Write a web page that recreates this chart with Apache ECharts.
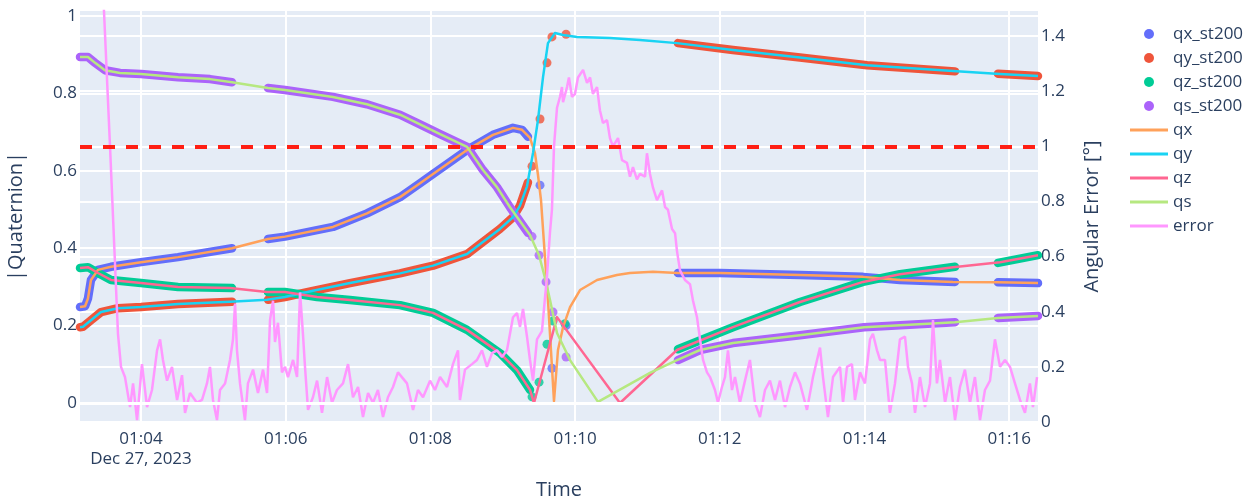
<!DOCTYPE html>
<html><head><meta charset="utf-8">
<script src="https://cdn.jsdelivr.net/npm/echarts@6/dist/echarts.min.js"></script>
<style>html,body{margin:0;padding:0;background:#fff}#c{width:1255px;height:500px}</style>
</head><body><div id="c"></div>
<script>
// Time values are seconds after 01:00:00 on Dec 27, 2023
const dateLabel = 'Dec 27, 2023';
const xTickLabels = ['01:04','01:06','01:08','01:10','01:12','01:14','01:16'];
const xRange = [189.4, 983.9];
const leftTicks = [0, 0.2, 0.4, 0.6, 0.8, 1];
const leftTickLabels = ['0','0.2','0.4','0.6','0.8','1'];
const leftRange = [-0.049, 1.013];
const rightTicks = [0, 0.2, 0.4, 0.6, 0.8, 1, 1.2, 1.4];
const rightTickLabels = ['0','0.2','0.4','0.6','0.8','1','1.2','1.4'];
const rightRange = [0, 1.491];
const errorThreshold = 1;
const zeroLevel = 0;

const qxLine = [[189.4,0.248],[193.6,0.250],[196.0,0.27],[198.5,0.318],[204.3,0.344],[215.1,0.352],[240,0.364],[270.7,0.377],[315.5,0.400],[345.3,0.424],[359.4,0.430],[399.2,0.455],[427.4,0.49],[454.8,0.532],[471.4,0.568],[482.2,0.592],[510.4,0.654],[531.9,0.693],[548.5,0.711],[556.0,0.706],[562.6,0.685],[566.7,0.646],[569.2,0.590],[571.7,0.525],[577.5,0.266],[582.5,0.005],[585.8,0.137],[590.0,0.196],[595.8,0.248],[604.1,0.292],[618.2,0.318],[634.7,0.331],[645.5,0.336],[664.6,0.339],[685,0.336],[720,0.336],[786.5,0.331],[838.8,0.326],[869.4,0.318],[913.4,0.313],[949.9,0.312],[983.9,0.31]];
const qyLine = [[189.4,0.196],[191.9,0.197],[198.5,0.214],[206.8,0.235],[220.9,0.245],[240,0.248],[270.7,0.256],[313.8,0.262],[344.5,0.267],[359.4,0.274],[382.6,0.29],[413.3,0.31],[454.8,0.335],[482.2,0.355],[510.4,0.385],[537.7,0.45],[548.5,0.48],[554.3,0.51],[560.1,0.56],[565.1,0.646],[569.2,0.731],[573.4,0.842],[577.5,0.93],[583.3,0.956],[590.0,0.951],[601.6,0.946],[628.9,0.943],[653.8,0.938],[684.5,0.930],[730.9,0.912],[786.5,0.893],[842.1,0.873],[913.4,0.858],[952.4,0.850],[983.9,0.845]];
const qzLine = [[189.4,0.349],[196.0,0.351],[204.3,0.336],[215.1,0.318],[240,0.31],[270.7,0.30],[313.8,0.297],[344.5,0.287],[359.4,0.287],[386.0,0.274],[413.3,0.266],[454.8,0.253],[482.2,0.233],[510.4,0.189],[537.7,0.129],[551.8,0.085],[562.6,0.034],[565.9,0.0],[585.0,0.222],[637.2,0.0],[684.5,0.137],[730.9,0.196],[786.5,0.261],[838.8,0.313],[869.4,0.333],[913.4,0.351],[952.4,0.364],[983.9,0.382]];
const qsLine = [[189.4,0.894],[196.0,0.894],[201.9,0.879],[210.1,0.860],[222.6,0.853],[240,0.850],[270.7,0.842],[297.2,0.837],[315.5,0.829],[345.3,0.814],[359.4,0.809],[399.2,0.791],[427.4,0.772],[454.8,0.745],[471.4,0.72],[488.0,0.695],[510.4,0.662],[523.6,0.602],[535.2,0.558],[546.0,0.506],[562.6,0.434],[570.1,0.382],[575.9,0.313],[579.2,0.266],[585.0,0.181],[595.8,0.111],[619.0,0.003],[662.1,0.078],[684.5,0.111],[703.6,0.137],[730.9,0.155],[786.5,0.175],[839.6,0.196],[915.1,0.209],[950.7,0.22],[983.9,0.225]];
const errorLine = [[189.4,3.4],[209.3,1.49],[214.3,1.0],[220.9,0.32],[223.4,0.20],[226.7,0.163],[230.9,0.054],[233.4,0.14],[236.7,0.007],[240.8,0.21],[245.0,0.054],[249.1,0.116],[253.3,0.26],[255.8,0.30],[258.2,0.225],[261.6,0.15],[265.7,0.20],[269.9,0.08],[274.0,0.17],[276.5,0.033],[280.6,0.105],[286.4,0.07],[290.6,0.08],[294.7,0.14],[297.2,0.20],[299.7,0.08],[303.0,0.007],[305.5,0.116],[309.7,0.14],[313.8,0.225],[316.3,0.30],[318.0,0.43],[319.6,0.26],[322.1,0.14],[326.2,0.007],[328.7,0.14],[332.9,0.19],[337.0,0.105],[341.2,0.19],[344.5,0.105],[347.0,0.37],[349.5,0.44],[351.1,0.29],[353.6,0.36],[356.9,0.18],[359.4,0.20],[361.9,0.163],[366.1,0.225],[369.4,0.163],[371.9,0.47],[374.3,0.32],[376.0,0.20],[378.5,0.044],[382.6,0.09],[386.0,0.15],[390.1,0.033],[394.3,0.163],[398.4,0.07],[402.5,0.116],[407.5,0.14],[411.7,0.21],[415.8,0.09],[420.0,0.127],[424.1,0.018],[428.3,0.105],[432.4,0.07],[436.5,0.116],[440.7,0.018],[444.8,0.09],[449.0,0.127],[453.1,0.18],[460.6,0.14],[465.6,0.044],[469.7,0.116],[473.9,0.09],[479.7,0.15],[483.8,0.116],[488.0,0.163],[493.8,0.127],[498.7,0.21],[502.9,0.26],[504.5,0.08],[508.7,0.19],[514.5,0.21],[518.6,0.225],[522.8,0.26],[526.9,0.20],[531.1,0.25],[535.2,0.26],[539.4,0.236],[543.5,0.26],[546.0,0.32],[548.5,0.38],[551.8,0.395],[554.3,0.345],[556.8,0.41],[560.1,0.31],[562.6,0.225],[565.1,0.15],[568.4,0.30],[572.5,0.33],[574.2,0.41],[576.7,0.53],[579.2,0.69],[580.8,0.77],[582.5,1.0],[585.0,1.14],[587.5,1.18],[589.1,1.215],[590.0,1.16],[593.3,1.215],[594.9,1.25],[597.4,1.18],[599.9,1.19],[602.4,1.25],[606.6,1.277],[609.9,1.23],[612.4,1.25],[614.8,1.19],[618.2,1.215],[620.6,1.13],[623.1,1.085],[626.5,1.095],[628.9,1.03],[631.4,1.0],[635.6,1.03],[638.9,0.95],[643.0,0.94],[645.5,0.89],[648.0,0.925],[651.3,0.88],[653.8,0.90],[658.0,0.89],[659.6,0.975],[662.1,0.90],[664.6,0.85],[667.9,0.805],[672.1,0.84],[674.6,0.78],[677.0,0.77],[680.4,0.70],[682.9,0.685],[684.5,0.62],[687.0,0.55],[691.1,0.515],[695.3,0.50],[697.8,0.44],[701.1,0.38],[703.6,0.30],[706.1,0.225],[709.4,0.18],[711.9,0.163],[716.0,0.116],[718.5,0.07],[721.8,0.127],[724.3,0.163],[726.8,0.26],[730.1,0.116],[732.6,0.163],[736.7,0.07],[740.9,0.15],[745.0,0.225],[749.2,0.07],[753.3,0.018],[757.5,0.116],[761.6,0.15],[765.8,0.08],[769.9,0.15],[774.1,0.054],[778.2,0.127],[782.4,0.18],[786.5,0.14],[792.3,0.044],[797.3,0.163],[803.1,0.27],[805.6,0.163],[809.7,0.018],[813.9,0.163],[819.7,0.20],[822.2,0.07],[825.5,0.20],[829.6,0.21],[832.1,0.08],[836.3,0.18],[840.4,0.14],[844.6,0.30],[847.0,0.32],[850.4,0.26],[852.9,0.225],[857.0,0.225],[861.1,0.033],[865.3,0.14],[869.4,0.30],[873.6,0.31],[876.1,0.20],[879.4,0.14],[881.9,0.033],[886.0,0.163],[890.2,0.054],[894.3,0.14],[896.8,0.37],[900.1,0.14],[902.6,0.225],[906.8,0.07],[910.9,0.163],[915.1,0.007],[919.2,0.127],[923.3,0.19],[927.5,0.07],[931.6,0.163],[935.8,0.007],[939.9,0.116],[944.1,0.15],[948.2,0.30],[952.4,0.20],[956.5,0.225],[960.7,0.20],[964.8,0.14],[969.0,0.08],[973.1,0.033],[977.2,0.14],[979.7,0.054],[983.1,0.163]];

// st200 samples: dense runs (segments) and a few isolated samples
const qxSt200Runs = [
  [[189.4,0.248],[193.6,0.250],[196.0,0.27],[198.5,0.318],[204.3,0.344],[215.1,0.352],[240,0.364],[270.7,0.377],[315.5,0.400]],
  [[345.3,0.424],[359.4,0.430],[399.2,0.455],[427.4,0.49],[454.8,0.532],[471.4,0.568],[482.2,0.592],[510.4,0.654],[531.9,0.693],[548.5,0.711],[556.0,0.706],[560.9,0.688]],
  [[685.3,0.336],[720,0.336],[786.5,0.331],[838.8,0.326],[869.4,0.318],[915.1,0.313]],
  [[950.7,0.312],[983.9,0.31]]];
const qxSt200Single = [[570.9,0.563],[580.8,0.09],[592.5,0.20]];
const qySt200Runs = [
  [[189.4,0.196],[191.9,0.197],[198.5,0.214],[206.8,0.235],[220.9,0.245],[240,0.248],[270.7,0.256],[315.5,0.262]],
  [[345.3,0.267],[359.4,0.274],[382.6,0.29],[413.3,0.31],[454.8,0.335],[482.2,0.355],[510.4,0.385],[537.7,0.45],[548.5,0.48],[554.3,0.51],[560.9,0.57]],
  [[685.3,0.93],[730.9,0.912],[786.5,0.893],[842.1,0.873],[915.1,0.857]],
  [[950.7,0.851],[983.9,0.845]]];
const qySt200Single = [[564.3,0.612],[570.9,0.734],[576.7,0.879],[580.8,0.946],[592.5,0.953]];
const qzSt200Runs = [
  [[189.4,0.349],[196.0,0.351],[204.3,0.336],[215.1,0.318],[240,0.31],[270.7,0.30],[315.5,0.297]],
  [[345.3,0.287],[359.4,0.287],[386.0,0.274],[413.3,0.266],[454.8,0.253],[482.2,0.233],[510.4,0.189],[537.7,0.129],[551.8,0.085],[562.6,0.034]],
  [[685.3,0.139],[730.9,0.196],[786.5,0.261],[838.8,0.313],[869.4,0.333],[915.1,0.352]],
  [[950.7,0.362],[983.9,0.382]]];
const qzSt200Single = [[564.3,0.016],[570.1,0.054],[576.7,0.152],[581.7,0.212],[591.6,0.205]];
const qsSt200Runs = [
  [[189.4,0.894],[196.0,0.894],[201.9,0.879],[210.1,0.860],[222.6,0.853],[240,0.850],[270.7,0.842],[297.2,0.837],[315.5,0.829]],
  [[345.3,0.814],[359.4,0.809],[399.2,0.791],[427.4,0.772],[454.8,0.745],[471.4,0.72],[488.0,0.695],[510.4,0.662],[523.6,0.602],[535.2,0.558],[546.0,0.506],[560.9,0.44]],
  [[685.3,0.111],[703.6,0.137],[730.9,0.155],[786.5,0.175],[839.6,0.196],[915.1,0.209]],
  [[950.7,0.22],[983.9,0.225]]];
const qsSt200Single = [[564.3,0.43],[570.1,0.382],[575.9,0.313],[581.7,0.235],[592.5,0.119]];

const colors = {qx_st200:'#636EFA', qy_st200:'#EF553B', qz_st200:'#00CC96', qs_st200:'#AB63FA',
  qx:'#FFA15A', qy:'#19D3F3', qz:'#FF6692', qs:'#B6E880', error:'#FF97FF'};

function toSec(lbl){ const p = lbl.split(':'); return (+p[0]-1)*3600 + (+p[1])*60; }
const xTickVals = xTickLabels.map(toSec);
function joinRuns(runs){ const out=[]; runs.forEach((r,i)=>{ if(i) out.push(['-','-']); r.forEach(p=>out.push(p)); }); return out; }

const font = 'Open Sans, Verdana, Arial, sans-serif';
const txt = '#2a3f5f';

const series = [];
// white zero line of the left axis (drawn under the data)
series.push({name:'zeroline',type:'line',data:[],z:1,silent:true,
  markLine:{silent:true,symbol:['none','none'],label:{show:false},animation:false,
    lineStyle:{color:'#fff',width:3,type:'solid'},data:[{yAxis:zeroLevel}]}});
[['qx_st200',qxSt200Runs,qxSt200Single],['qy_st200',qySt200Runs,qySt200Single],['qz_st200',qzSt200Runs,qzSt200Single],['qs_st200',qsSt200Runs,qsSt200Single]].forEach(([n,runs,single])=>{
  series.push({name:n,type:'line',data:joinRuns(runs),showSymbol:false,symbol:'none',connectNulls:false,
    lineStyle:{width:8.5,color:colors[n],cap:'round',join:'round'},itemStyle:{color:colors[n]},z:2,silent:true});
  series.push({name:n,type:'scatter',data:single,symbolSize:9,itemStyle:{color:colors[n]},z:2});
});
[['qx',qxLine],['qy',qyLine],['qz',qzLine],['qs',qsLine]].forEach(([n,d])=>{
  series.push({name:n,type:'line',data:d,symbol:'none',
    lineStyle:{width:2.5,color:colors[n],join:'round'},itemStyle:{color:colors[n]},z:3});
});
series.push({name:'error',type:'line',yAxisIndex:1,data:errorLine,symbol:'none',
  lineStyle:{width:2.5,color:colors.error},itemStyle:{color:colors.error},z:4,
  markLine:{silent:true,symbol:['none','none'],label:{show:false},
    lineStyle:{color:'#ff1f14',width:4,type:[12,11]},data:[{yAxis:errorThreshold}]}});

const legendNames = ['qx_st200','qy_st200','qz_st200','qs_st200','qx','qy','qz','qs','error'];
const option = {
  animation:false,
  backgroundColor:'#fff',
  grid:{left:80,right:217,top:11,bottom:78,containLabel:false,outerBoundsMode:'none',
    backgroundColor:'#E5ECF6',show:true,borderWidth:0},
  legend:{orient:'vertical',left:1125,top:19,itemWidth:38,itemHeight:10,itemGap:4,
    textStyle:{fontFamily:font,fontSize:17,color:txt,lineHeight:20},
    data:legendNames.map(n=> n.indexOf('st200')>0 ? {name:n,icon:'circle'} : {name:n,icon:'path://M0,0L38,0L38,3L0,3Z'})},
  xAxis:{type:'value',min:xRange[0],max:xRange[1],
    name:'Time',nameLocation:'middle',nameGap:58,nameTextStyle:{fontFamily:font,fontSize:20,color:txt},
    axisLine:{show:false},axisTick:{show:false,customValues:xTickVals},
    axisLabel:{customValues:xTickVals,fontFamily:font,fontSize:17,color:txt,margin:7,lineHeight:20,
      formatter:v=>{const i=xTickVals.indexOf(v); return i===0? xTickLabels[i]+'\n'+dateLabel : xTickLabels[i];}},
    splitLine:{show:true,lineStyle:{color:'#fff',width:2}}},
  yAxis:[
    {type:'value',min:leftRange[0],max:leftRange[1],position:'left',
     name:'|Quaternion|',nameLocation:'middle',nameRotate:90,nameGap:54,nameTextStyle:{fontFamily:font,fontSize:20,color:txt},
     axisLine:{show:false},axisTick:{show:false,customValues:leftTicks},
     axisLabel:{customValues:leftTicks,fontFamily:font,fontSize:17,color:txt,margin:3,
       formatter:v=>leftTickLabels[leftTicks.indexOf(v)]},
     splitLine:{show:true,lineStyle:{color:'#fff',width:2}}},
    {type:'value',min:rightRange[0],max:rightRange[1],position:'right',
     name:'Angular Error [°]',nameLocation:'middle',nameRotate:90,nameGap:44,nameTextStyle:{fontFamily:font,fontSize:20,color:txt},
     axisLine:{show:false},axisTick:{show:false,customValues:rightTicks},
     axisLabel:{customValues:rightTicks,fontFamily:font,fontSize:17,color:txt,margin:3,
       formatter:v=>rightTickLabels[rightTicks.indexOf(v)]},
     splitLine:{show:true,lineStyle:{color:'#fff',width:2}}}
  ],
  series:series
};
const chart = echarts.init(document.getElementById('c'),null,{renderer:'canvas'});
chart.setOption(option);
</script></body></html>
